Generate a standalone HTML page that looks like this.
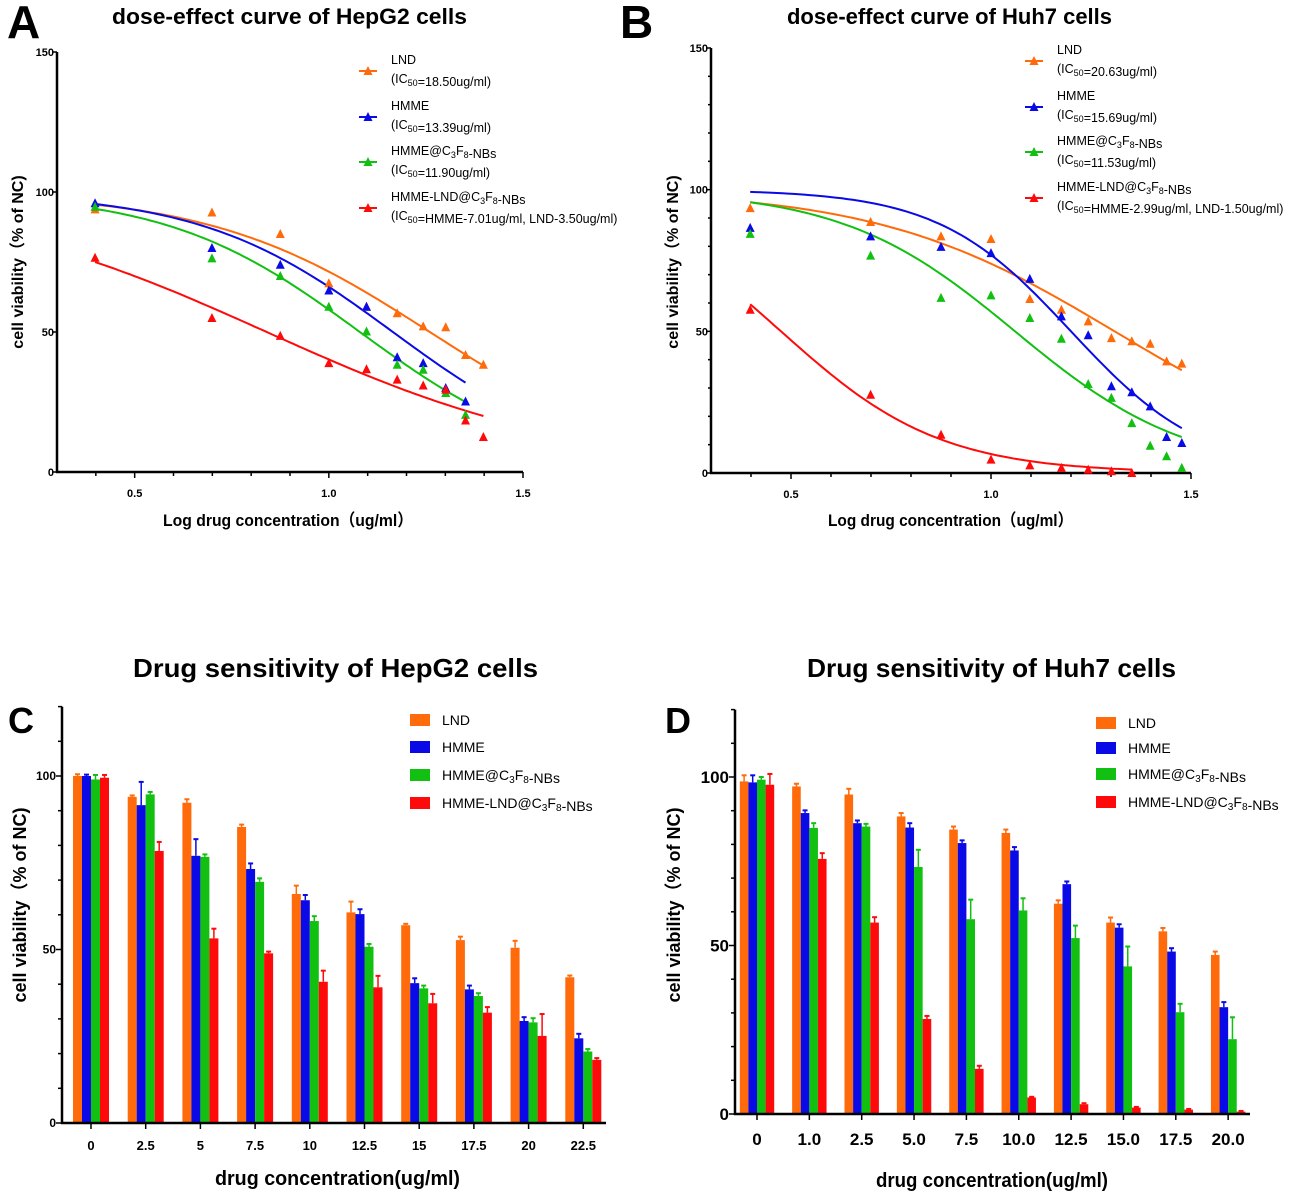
<!DOCTYPE html>
<html><head><meta charset="utf-8">
<style>
html,body{margin:0;padding:0;background:#fff;}
svg{display:block;font-family:"Liberation Sans","Noto Sans CJK SC",sans-serif;}
</style></head>
<body>
<svg id="fig" width="1300" height="1193" viewBox="0 0 1300 1193" xmlns="http://www.w3.org/2000/svg">
<g id="static">
<text x="7" y="38" font-size="46" font-weight="bold">A</text>
<text x="620" y="38" font-size="46" font-weight="bold">B</text>
<text x="8" y="733" font-size="36" font-weight="bold">C</text>
<text x="665" y="733" font-size="36" font-weight="bold">D</text>
<text x="112" y="24" font-size="22" font-weight="bold" textLength="355" lengthAdjust="spacingAndGlyphs">dose-effect curve of HepG2 cells</text>
<text x="787" y="24" font-size="22" font-weight="bold" textLength="325" lengthAdjust="spacingAndGlyphs">dose-effect curve of Huh7 cells</text>
<text x="133" y="677" font-size="26" font-weight="bold" textLength="405" lengthAdjust="spacingAndGlyphs">Drug sensitivity of HepG2 cells</text>
<text x="807" y="677" font-size="26" font-weight="bold" textLength="369" lengthAdjust="spacingAndGlyphs">Drug sensitivity of Huh7 cells</text>
<text transform="translate(23,262) rotate(-90)" text-anchor="middle" font-size="16" font-weight="bold">cell viability（% of NC)</text>
<text transform="translate(678,262) rotate(-90)" text-anchor="middle" font-size="16" font-weight="bold">cell viability（% of NC)</text>
<text transform="translate(26,905) rotate(-90)" text-anchor="middle" font-size="18" font-weight="bold">cell viability（% of NC)</text>
<text transform="translate(680,905) rotate(-90)" text-anchor="middle" font-size="18" font-weight="bold">cell viability（% of NC)</text>
<text x="163" y="526" font-size="17" font-weight="bold" textLength="250" lengthAdjust="spacingAndGlyphs">Log drug concentration（ug/ml）</text>
<text x="828" y="526" font-size="17" font-weight="bold" textLength="245" lengthAdjust="spacingAndGlyphs">Log drug concentration（ug/ml）</text>
<text x="215" y="1185" font-size="20" font-weight="bold" textLength="245" lengthAdjust="spacingAndGlyphs">drug concentration(ug/ml)</text>
<text x="876" y="1187" font-size="20" font-weight="bold" textLength="232" lengthAdjust="spacingAndGlyphs">drug concentration(ug/ml)</text>
</g>
<g id="plots"></g>
</svg>
<script>
// ---------- Data: dose-effect (log concentration) ----------
const logXA = [0.398,0.699,0.875,1.0,1.097,1.176,1.243,1.301,1.352,1.398];
const lndA = [93.8,92.7,85,67.4,59,56.7,52,51.7,41.8,38.3];
const hmmeA = [96,80,74,64.8,59,41,38.9,30,25.2];
const nbA = [94.7,76.3,70,59,50.2,38.3,36.5,28.2,20.4];
const comboA = [76.5,55,48.6,38.9,36.7,33,30.9,29.4,18.4,12.5];
const logXB = [0.398,0.699,0.875,1.0,1.097,1.176,1.243,1.301,1.352,1.398,1.439,1.477];
const lndB = [93.5,88.6,83.5,82.6,61.4,57.6,53.5,47.6,46.5,45.6,39.4,38.6];
const hmmeB = [86.5,83.5,79.8,77.6,68.5,55.3,48.6,30.6,28.5,23.5,12.7,10.6];
const nbB = [84.4,76.7,61.8,62.7,54.7,47.4,31.4,26.5,17.6,9.6,5.9,1.8];
const comboB = [57.6,27.6,13.5,4.7,2.7,1.8,1.2,0.6,0];
// fitted curve params: [top, logIC, hill, xStart, xEnd]
const fitLndA = [100,1.26,1.54,0.398,1.398];
const fitHmmeA = [100,1.165,1.76,0.398,1.352];
const fitNbA = [100,1.08,1.753,0.398,1.352];
const fitComboA = [100,0.84,1.079,0.398,1.398];
const fitLndB = [100,1.309,1.46,0.398,1.477];
const fitHmmeB = [100,1.2,2.62,0.398,1.477];
const fitNbB = [100,1.06,2.01,0.398,1.477];
const fitComboB = [100,0.475,2.18,0.398,1.352];
const legendA = ["LND","(IC50=18.50ug/ml)","HMME","(IC50=13.39ug/ml)","HMME@C3F8-NBs","(IC50=11.90ug/ml)","HMME-LND@C3F8-NBs","(IC50=HMME-7.01ug/ml, LND-3.50ug/ml)"];
const legendB = ["LND","(IC50=20.63ug/ml)","HMME","(IC50=15.69ug/ml)","HMME@C3F8-NBs","(IC50=11.53ug/ml)","HMME-LND@C3F8-NBs","(IC50=HMME-2.99ug/ml, LND-1.50ug/ml)"];
// ---------- Data: bars ----------
const catsC = ["0","2.5","5","7.5","10","12.5","15","17.5","20","22.5"];
const lndC = [100,94,92.3,85.3,66,60.7,57,52.7,50.5,42];
const lndCErr = [0.5,0.4,1,0.7,2.4,3.1,0.4,1,2,0.5];
const hmmeC = [100,91.6,77,73.2,64.2,60.2,40.3,38.5,29.4,24.4];
const hmmeCErr = [0.4,6.7,4.8,1.6,1.5,1.4,1.4,1.1,1.1,1.3];
const nbC = [99,94.7,76.7,69.5,58.2,50.8,38.8,36.6,29,20.6];
const nbCErr = [1.3,0.7,0.7,1,1.4,0.8,0.8,0.8,1.2,0.7];
const comboC = [99.5,78.4,53.2,48.9,40.7,39.1,34.5,31.8,25.1,18.2];
const comboCErr = [0.8,2.6,2.8,0.5,3.2,3.3,2.7,1.6,6.3,0.5];
const catsD = ["0","1.0","2.5","5.0","7.5","10.0","12.5","15.0","17.5","20.0"];
const lndD = [98.7,97.2,94.8,88.3,84.4,83.4,62.4,56.8,54.2,47.2];
const lndDErr = [1.8,0.8,1.7,1,0.9,1,1,1.5,1,1];
const hmmeD = [98.4,89.3,86.3,85,80.4,78.2,68.2,55.3,48.2,31.7];
const hmmeDErr = [2.1,0.8,0.8,1.3,0.8,1,0.8,1,1,1.5];
const nbD = [99.2,84.9,85.3,73.3,57.8,60.4,52.2,43.8,30.2,22.2];
const nbDErr = [0.8,1.4,0.8,5.1,5.8,3.6,3.7,5.9,2.5,6.5];
const comboD = [97.7,75.7,56.8,28.2,13.4,4.9,2.9,1.9,1.3,0.7];
const comboDErr = [3.2,1.7,1.6,0.9,0.9,0.2,0.3,0.2,0.2,0.2];
const legendBars = ["LND","HMME","HMME@C3F8-NBs","HMME-LND@C3F8-NBs"];

const COL = ["#ff6a0a","#0a0ae6","#12c012","#ff0a0a"];
const NS = "http://www.w3.org/2000/svg";
const root = document.getElementById('plots');
function el(tag, attrs, parent){const e=document.createElementNS(NS,tag);for(const k in attrs)e.setAttribute(k,attrs[k]);(parent||root).appendChild(e);return e;}
function lin(d0,d1,r0,r1){return v=>r0+(v-d0)/(d1-d0)*(r1-r0);}
function richLabel(txt, x, y, size, parent){
  // renders IC50 / C3F8 with subscripts
  const t=el('text',{x:x,y:y,'font-size':size},parent);
  const parts = txt.split(/(IC50|C3F8)/);
  parts.forEach(p=>{
    if(p==="IC50"){const a=el('tspan',{},t);a.textContent="IC";const b=el('tspan',{'font-size':size*0.72,dy:3},t);b.textContent="50";const c=el('tspan',{dy:-3},t);c.textContent="";}
    else if(p==="C3F8"){const a=el('tspan',{},t);a.textContent="C";const b=el('tspan',{'font-size':size*0.72,dy:3},t);b.textContent="3";const c=el('tspan',{dy:-3},t);c.textContent="F";const d=el('tspan',{'font-size':size*0.72,dy:3},t);d.textContent="8";const e=el('tspan',{dy:-3},t);e.textContent="";}
    else if(p){const a=el('tspan',{},t);a.textContent=p;}
  });
  return t;
}
function tri(g,x,y,c){el('path',{d:`M${x-4.5},${y+4} L${x+4.5},${y+4} L${x},${y-5} Z`,fill:c},g);}

function dosePanel(id, xs, ys, xAxisEnd, yMinor, series, fits, xVals, legend, legX, legRows){
  const g=el('g',{});
  
  
  const x0=xs(0.3), y0=ys(0);
  el('line',{x1:x0,y1:ys(150),x2:x0,y2:y0+1,stroke:'#000','stroke-width':2.5},g);
  el('line',{x1:x0-1,y1:y0,x2:xs(xAxisEnd),y2:y0,stroke:'#000','stroke-width':2.5},g);
  for(let v=0;v<=150;v+=yMinor){const big=v%50===0;el('line',{x1:x0-(big?5:3),y1:ys(v),x2:x0,y2:ys(v),stroke:'#000','stroke-width':1.5},g);
    if(big){const t=el('text',{x:x0-3,y:ys(v)+4,'font-size':11,'font-weight':'bold','text-anchor':'end'},g);t.textContent=String(v);}}
  for(let i=4;i<=15;i++){const v=i/10;const big=i%5===0;el('line',{x1:xs(v),y1:y0,x2:xs(v),y2:y0+(big?6:4),stroke:'#000','stroke-width':1.5},g);
    if(big){const t=el('text',{x:xs(v),y:y0+25,'font-size':11,'font-weight':'bold','text-anchor':'middle'},g);t.textContent=v.toFixed(1);}}
  fits.forEach((f,si)=>{
    let d='';for(let k=0;k<=80;k++){const x=f[3]+(f[4]-f[3])*k/80;const y=f[0]/(1+Math.pow(10,(x-f[1])*f[2]));d+=(k?'L':'M')+xs(x).toFixed(1)+','+ys(y).toFixed(1);}
    const p=el('path',{d:d,fill:'none',stroke:COL[si],'stroke-width':2},g);
    
    
  });
  series.forEach((s,si)=>{s.forEach((v,i)=>{tri(g,xs(xVals[i]),ys(v),COL[si]);});});
  legRows.forEach((ry,i)=>{
    const lg=el('g',{},g);
    
    
    el('line',{x1:legX-12,y1:ry+11,x2:legX+6,y2:ry+11,stroke:COL[i],'stroke-width':2},lg);
    tri(lg,legX-3,ry+11,COL[i]);
    richLabel(legend[2*i],legX+20,ry+4,12.5,lg);
    richLabel(legend[2*i+1],legX+20,ry+23,12.5,lg);
  });
}
dosePanel('a', lin(0.3,1.5,57,523), lin(0,150,472,52), 1.5, 50,
  [lndA,hmmeA,nbA,comboA],[fitLndA,fitHmmeA,fitNbA,fitComboA], logXA, legendA, 371, [60,106,151,197]);
dosePanel('b', lin(0.3,1.5,711,1191), lin(0,150,473,48), 1.5, 10,
  [lndB,hmmeB,nbB,comboB],[fitLndB,fitHmmeB,fitNbB,fitComboB], logXB, legendB, 1037, [50,96,141,187]);

function barPanel(id, cats, vals, errs, x0, xEnd, c0, step, bw, ys, tickFont, xFont, legX, legRows){
  const g=el('g',{});
  
  
  const y0=ys(0);
  vals.forEach((s,si)=>{s.forEach((v,i)=>{
    const cx=c0+i*step+(si-1.5)*bw;
    const r=el('rect',{x:cx-bw/2,y:ys(v),width:bw,height:y0-ys(v),fill:COL[si]},g);
    
    
    const e=errs[si][i];
    el('line',{x1:cx,y1:ys(v),x2:cx,y2:ys(v+e),stroke:COL[si],'stroke-width':1.5},g);
    el('line',{x1:cx-2.5,y1:ys(v+e),x2:cx+2.5,y2:ys(v+e),stroke:COL[si],'stroke-width':2},g);
  });});
  el('line',{x1:x0,y1:ys(120),x2:x0,y2:y0+1,stroke:'#000','stroke-width':2.5},g);
  el('line',{x1:x0-1,y1:y0,x2:xEnd,y2:y0,stroke:'#000','stroke-width':2.5},g);
  for(let v=0;v<=120;v+=10){const big=v%50===0;el('line',{x1:x0-(big?6:4),y1:ys(v),x2:x0,y2:ys(v),stroke:'#000','stroke-width':1.5},g);
    if(big){const t=el('text',{x:x0-6,y:ys(v)+tickFont*0.35,'font-size':tickFont,'font-weight':'bold','text-anchor':'end'},g);t.textContent=String(v);}}
  cats.forEach((c,i)=>{const cx=c0+i*step;el('line',{x1:cx,y1:y0,x2:cx,y2:y0+6,stroke:'#000','stroke-width':1.5},g);
    const t=el('text',{x:cx,y:y0+xFont+14,'font-size':xFont,'font-weight':'bold','text-anchor':'middle'},g);t.textContent=c;});
  legRows.forEach((ry,i)=>{
    const lg=el('g',{},g);
    
    
    el('rect',{x:legX,y:ry-6,width:20,height:12,fill:COL[i]},lg);
    richLabel(legendBars[i],legX+32,ry+5,14,lg);
  });
}
barPanel('c', catsC, [lndC,hmmeC,nbC,comboC],[lndCErr,hmmeCErr,nbCErr,comboCErr], 62, 606, 91, 54.7, 9, lin(0,100,1123,776), 12, 13, 410, [720,747,775,803]);
barPanel('d', catsD, [lndD,hmmeD,nbD,comboD],[lndDErr,hmmeDErr,nbDErr,comboDErr], 735, 1250, 757, 52.35, 8.6, lin(0,100,1114,777), 17, 17, 1096, [723,748,774,802]);
</script>
</body></html>
